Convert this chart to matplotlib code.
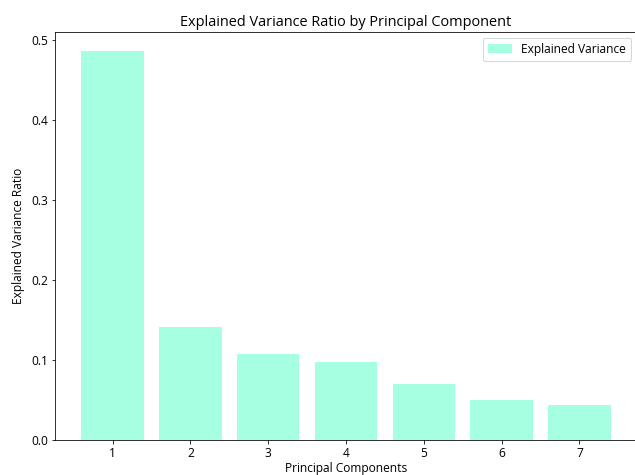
import matplotlib
matplotlib.use("Agg")
import matplotlib.pyplot as plt
import numpy as np

components = np.arange(1, 8)
explained_variance = [0.486, 0.141, 0.1075, 0.0975, 0.070, 0.050, 0.044]

plt.rcParams['font.family'] = ['Open Sans', 'DejaVu Sans']
plt.rcParams['font.size'] = 12

fig = plt.figure(figsize=(635 / 72, 475 / 72), dpi=72)
ax = fig.add_axes([55 / 635, 35 / 475, 582 / 635, 408 / 475])

ax.bar(components, explained_variance, color='aquamarine', alpha=0.7, label='Explained Variance')
ax.set_xlabel('Principal Components', labelpad=2)
ax.set_ylabel('Explained Variance Ratio', labelpad=6)
ax.set_title('Explained Variance Ratio by Principal Component', fontsize=14.5)
ax.set_xticks(components)
ax.legend(loc='upper right')

fig.savefig('out.png', dpi=72)
